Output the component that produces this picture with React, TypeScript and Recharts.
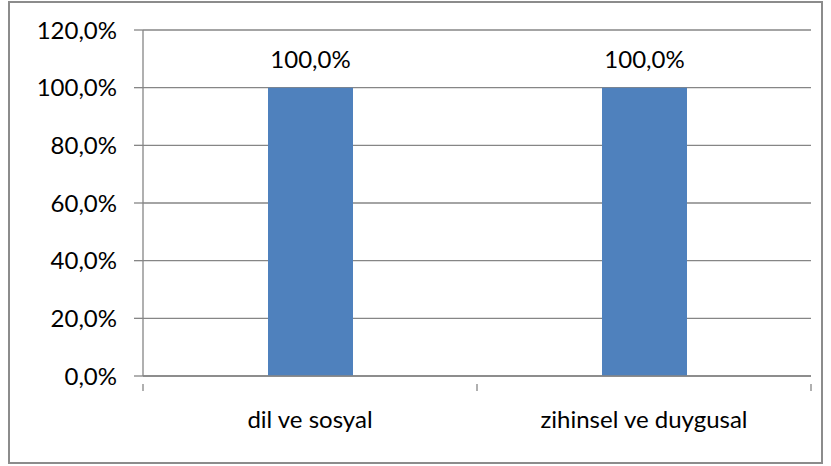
import { Bar, BarChart, CartesianGrid, LabelList, XAxis, YAxis } from "recharts";

const categories = ["dil ve sosyal", "zihinsel ve duygusal"];
const values = [100, 100];
const yTicks = [0, 20, 40, 60, 80, 100, 120];

const data = categories.map((name, i) => ({ name, value: values[i] }));

const font = "Lato, 'Open Sans', sans-serif";
const gray = "#868686";

const fmt = (v: number) => `${v.toFixed(1).replace(".", ",")}%`;

// category label plus the boundary tick marks Excel draws between categories
function CatTick(props: any) {
  const { x, y, payload, index } = props;
  const half = payload.offset ?? 0;
  return (
    <g>
      {index === 0 && <line x1={x - half} x2={x - half} y1={y} y2={y + 7} stroke={gray} strokeWidth={1.3} />}
      <line x1={x + half} x2={x + half} y1={y} y2={y + 7} stroke={gray} strokeWidth={1.3} />
      <text x={x} y={y + 44} textAnchor="middle" fill="#000" fontSize={24} fontFamily={font}>
        {payload.value}
      </text>
    </g>
  );
}

export default function App() {
  return (
    <div style={{ position: "absolute", left: 0, top: 0, width: 831, height: 466, background: "#fff" }}>
      <div
        style={{
          position: "absolute",
          left: 8,
          top: 1,
          width: 811,
          height: 459,
          border: "2px solid #8c8c8c",
        }}
      />
      <div style={{ position: "absolute", left: 0, top: 0 }}>
        <BarChart
          width={831}
          height={466}
          data={data}
          margin={{ top: 30, right: 20, bottom: 0, left: 0 }}
        >
          <CartesianGrid vertical={false} stroke={gray} strokeWidth={1.3} />
          <XAxis
            dataKey="name"
            height={90}
            stroke={gray}
            strokeWidth={1.3}
            tickLine={false}
            tick={<CatTick />}
            interval={0}
          />
          <YAxis
            width={143}
            domain={[0, 120]}
            ticks={yTicks}
            tickFormatter={fmt}
            stroke={gray}
            strokeWidth={1.3}
            tickSize={9}
            tickMargin={17}
            tick={{ fill: "#000", fontSize: 24, fontFamily: font }}
          />
          <Bar dataKey="value" fill="#4F81BD" barSize={85} isAnimationActive={false}>
            <LabelList
              dataKey="value"
              position="top"
              offset={20}
              formatter={(v: number) => fmt(v)}
              style={{ fill: "#000", fontSize: 24, fontFamily: font }}
            />
          </Bar>
        </BarChart>
      </div>
    </div>
  );
}
